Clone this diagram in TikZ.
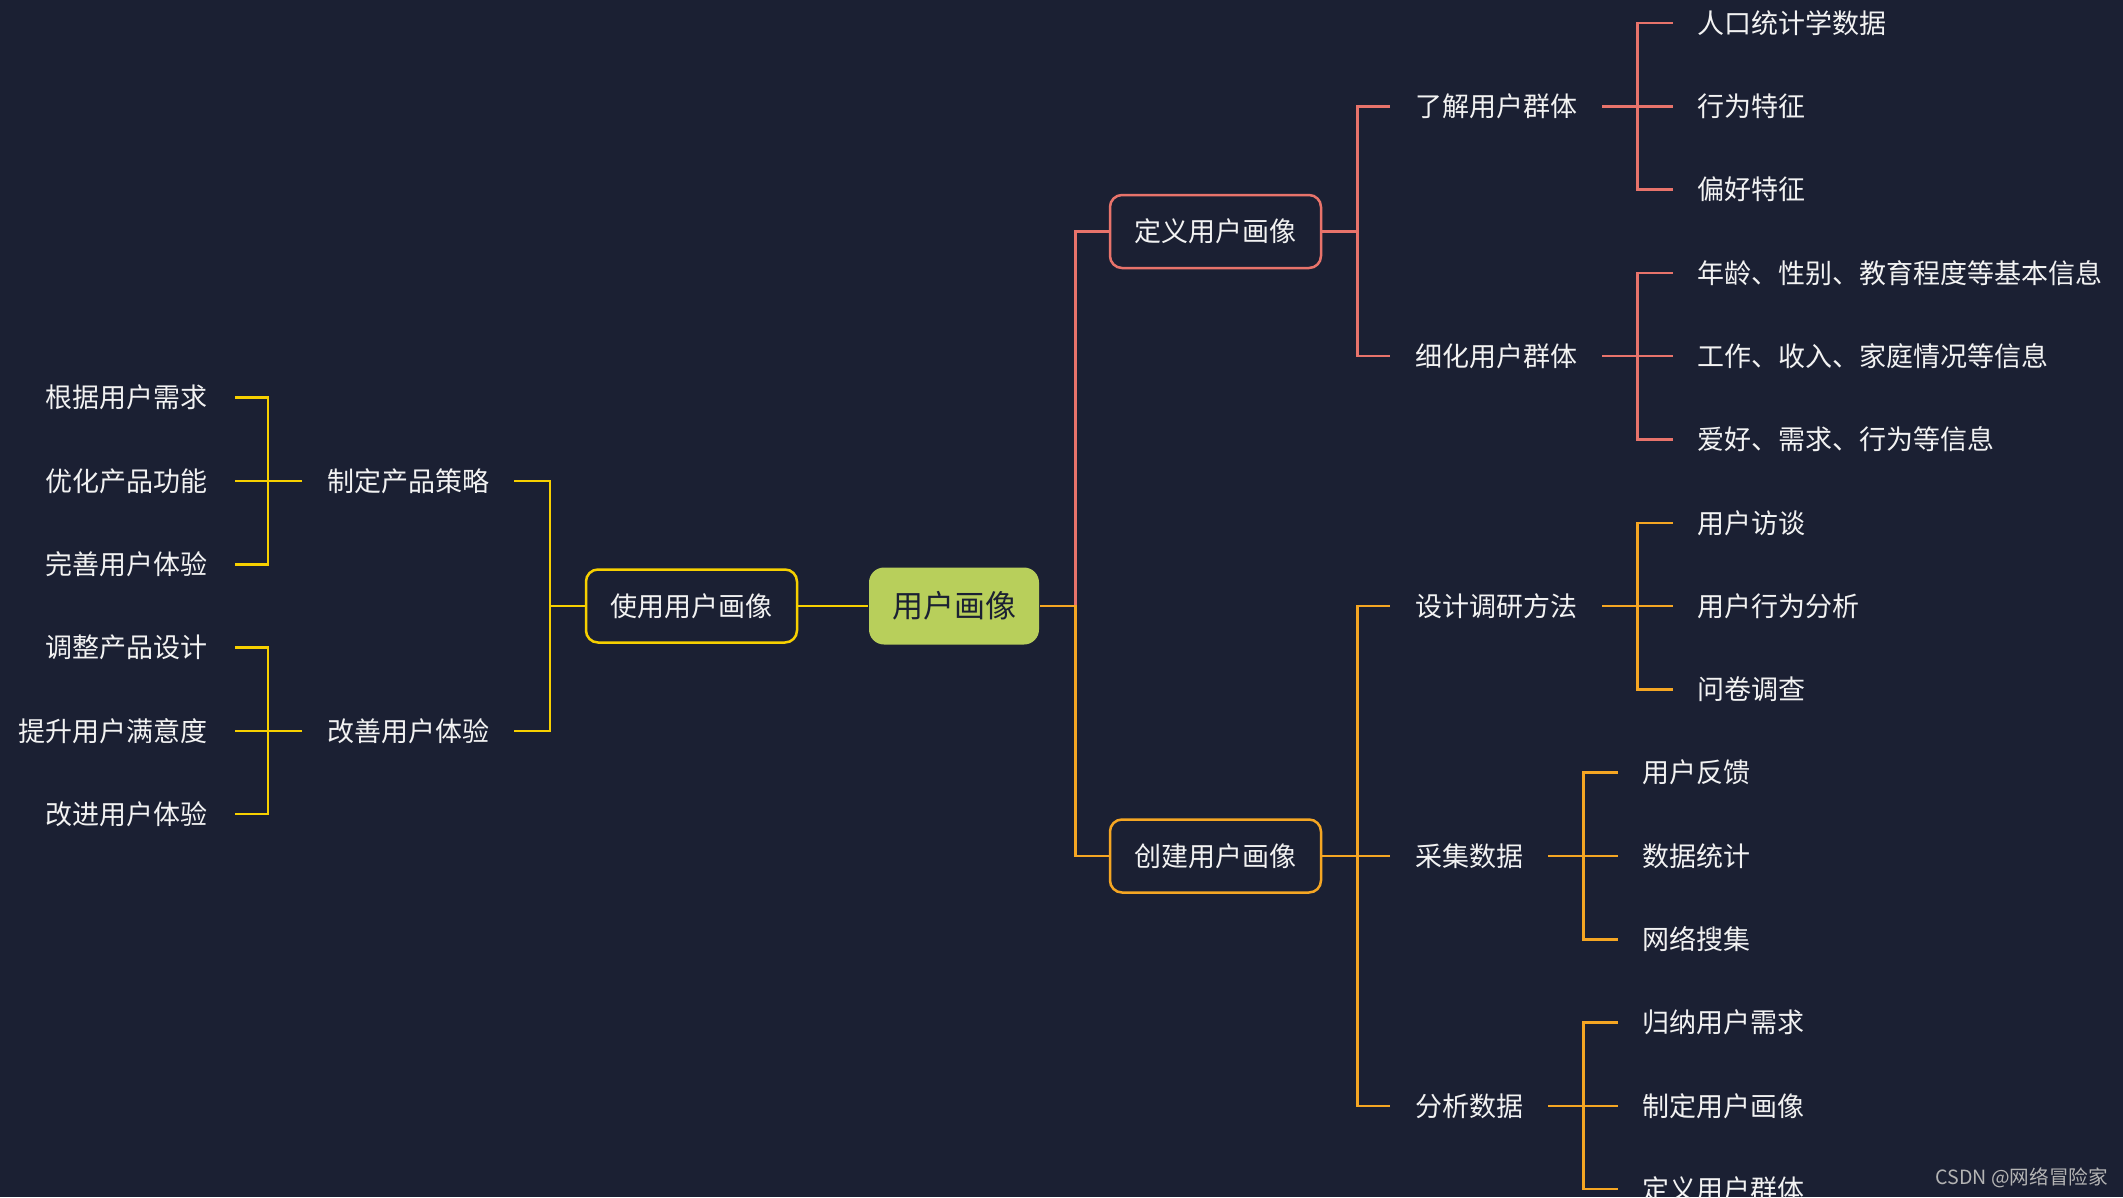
\documentclass[tikz,border=0pt]{standalone}
\usepackage{fontspec}
\setmainfont{Noto Sans CJK SC}
\definecolor{bg}{HTML}{1B2033}
\definecolor{cred}{HTML}{E8736B}
\definecolor{corg}{HTML}{F5A623}
\definecolor{cyel}{HTML}{F7D000}
\definecolor{cfill}{HTML}{B8CF5B}
\definecolor{cwm}{HTML}{B4B4B4}
\definecolor{ctxt}{HTML}{F2F2F2}
\begin{document}
\begin{tikzpicture}[x=1pt,y=-1pt,
  lv/.style={font=\fontsize{27}{32}\selectfont, text=ctxt, inner xsep=25, inner ysep=4},
  bx/.style={draw, line width=2.5, rounded corners=12, fill=bg, minimum width=211,
     minimum height=73, font=\fontsize{27}{32}\selectfont, text=ctxt, inner sep=0},
  ln/.style={line width=2.5}]
\useasboundingbox[fill=bg] (0,0) rectangle (2123,1197);

% level 0 and 1
\node[bx, draw=none, fill=cfill, text=bg, minimum width=170, minimum height=77,
  rounded corners=15, font=\fontsize{31}{36}\selectfont] (root) at (954,606) {用户画像};
\node[bx, draw=cyel] (use) at (691.5,606) {使用用户画像};
\node[bx, draw=cred] (def) at (1215.5,231.5) {定义用户画像};
\node[bx, draw=corg] (cre) at (1215.5,856) {创建用户画像};

% right level 2
\node[lv, anchor=west] (l1) at (1390,106.3) {了解用户群体};
\node[lv, anchor=west] (l2) at (1390,356.2) {细化用户群体};
\node[lv, anchor=west] (l3) at (1390,606.1) {设计调研方法};
\node[lv, anchor=west] (l4) at (1390,856) {采集数据};
\node[lv, anchor=west] (l5) at (1390,1105.9) {分析数据};

% right leaves
\node[lv, anchor=west, inner xsep=24] (a1) at (1673,23) {人口统计学数据};
\node[lv, anchor=west, inner xsep=24] (a2) at (1673,106.3) {行为特征};
\node[lv, anchor=west, inner xsep=24] (a3) at (1673,189.6) {偏好特征};
\node[lv, anchor=west, inner xsep=24] (b1) at (1673,272.9) {年龄、性别、教育程度等基本信息};
\node[lv, anchor=west, inner xsep=24] (b2) at (1673,356.2) {工作、收入、家庭情况等信息};
\node[lv, anchor=west, inner xsep=24] (b3) at (1673,439.5) {爱好、需求、行为等信息};
\node[lv, anchor=west, inner xsep=24] (c1) at (1673,522.8) {用户访谈};
\node[lv, anchor=west, inner xsep=24] (c2) at (1673,606.1) {用户行为分析};
\node[lv, anchor=west, inner xsep=24] (c3) at (1673,689.4) {问卷调查};
\node[lv, anchor=west, inner xsep=24] (d1) at (1618,772.7) {用户反馈};
\node[lv, anchor=west, inner xsep=24] (d2) at (1618,856) {数据统计};
\node[lv, anchor=west, inner xsep=24] (d3) at (1618,939.3) {网络搜集};
\node[lv, anchor=west, inner xsep=24] (e1) at (1618,1022.6) {归纳用户需求};
\node[lv, anchor=west, inner xsep=24] (e2) at (1618,1105.9) {制定用户画像};
\node[lv, anchor=west, inner xsep=24] (e3) at (1618,1189.2) {定义用户群体};

% left level 2
\node[lv, anchor=west] (z1) at (302,481) {制定产品策略};
\node[lv, anchor=west] (z2) at (302,731) {改善用户体验};

% left leaves
\node[lv, anchor=east, inner xsep=27] (y1) at (235,397.7) {根据用户需求};
\node[lv, anchor=east, inner xsep=27] (y2) at (235,481) {优化产品功能};
\node[lv, anchor=east, inner xsep=27] (y3) at (235,564.3) {完善用户体验};
\node[lv, anchor=east, inner xsep=27] (y4) at (235,647.6) {调整产品设计};
\node[lv, anchor=east, inner xsep=27] (y5) at (235,731) {提升用户满意度};
\node[lv, anchor=east, inner xsep=27] (y6) at (235,814.2) {改进用户体验};

% watermark
\node[anchor=east, inner sep=0, text=cwm, font=\fontsize{19.6}{21}\selectfont] (wm) at (2108,1178) {CSDN @网络冒险家};

% connectors: red branch
\draw[ln, cred] (root.east) -- ++(35,0) |- (def.west);
\foreach \c in {l1,l2} \draw[ln, cred] (def.east) -- ++(35,0) |- (\c.west);
\foreach \c in {a1,a2,a3} \draw[ln, cred] (l1.east) -- ++(35,0) |- (\c.west);
\foreach \c in {b1,b2,b3} \draw[ln, cred] (l2.east) -- ++(35,0) |- (\c.west);

% orange branch
\draw[ln, corg] (root.east) -- ++(35,0) |- (cre.west);
\foreach \c in {l3,l4,l5} \draw[ln, corg] (cre.east) -- ++(35,0) |- (\c.west);
\foreach \c in {c1,c2,c3} \draw[ln, corg] (l3.east) -- ++(35,0) |- (\c.west);
\foreach \c in {d1,d2,d3} \draw[ln, corg] (l4.east) -- ++(35,0) |- (\c.west);
\foreach \c in {e1,e2,e3} \draw[ln, corg] (l5.east) -- ++(35,0) |- (\c.west);

% yellow branch
\draw[ln, cyel] (root.west) -- (use.east);
\foreach \c in {z1,z2} \draw[ln, cyel] (use.west) -- ++(-35,0) |- (\c.east);
\foreach \c in {y1,y2,y3} \draw[ln, cyel] (z1.west) -- ++(-34,0) |- (\c.east);
\foreach \c in {y4,y5,y6} \draw[ln, cyel] (z2.west) -- ++(-34,0) |- (\c.east);
\end{tikzpicture}
\end{document}
